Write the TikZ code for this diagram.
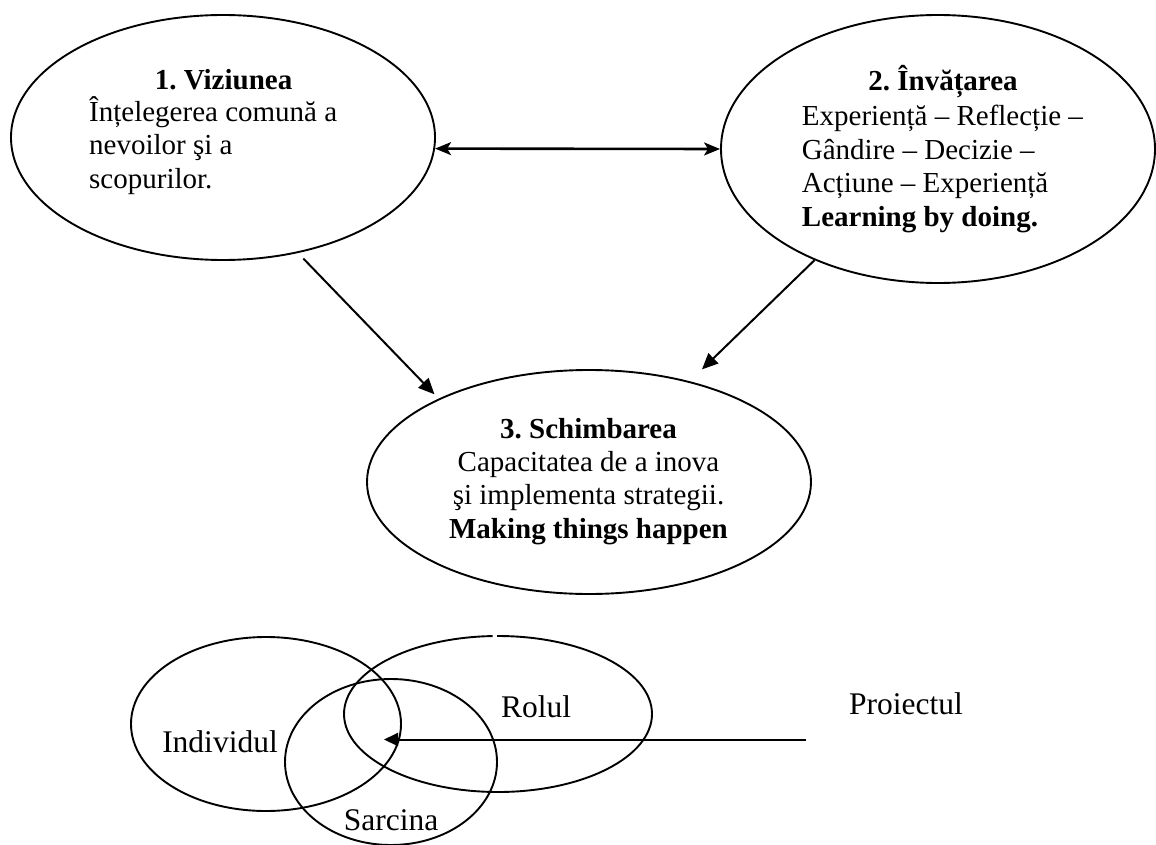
\documentclass[tikz,border=0pt]{standalone}
\usepackage{fontspec}
\setmainfont{Liberation Serif}
\frenchspacing
\usetikzlibrary{shapes.geometric,arrows.meta}
\begin{document}
\begin{tikzpicture}[x=1pt,y=-1pt,
  oval/.style={draw, ellipse, line width=1.9pt, inner sep=0pt},
  txt/.style={inner sep=0pt, font=\fontsize{29}{33.5}\selectfont},
  ttl/.style={txt, font=\fontsize{29}{33.5}\selectfont\bfseries},
  big/.style={inner sep=0pt, font=\fontsize{31.5}{36}\selectfont},
  link/.style={line width=2pt, -{Triangle[length=16pt,width=14pt]}},
  both/.style={line width=2.6pt, {Stealth[length=16pt,width=13pt,inset=4pt]}-{Stealth[length=16pt,width=13pt,inset=4pt]}}
]
\useasboundingbox (0,0) rectangle (1156,845);

% the three stages
\node[oval, minimum width=424pt, minimum height=245pt] (viz) at (223,137.5) {};
\node[oval, minimum width=434pt, minimum height=268pt] (inv) at (938,149) {};
\node[oval, minimum width=444pt, minimum height=224pt] (sch) at (589,482) {};

% multi-line texts are placed by the baseline of their last line
\node[ttl, anchor=base] (vizT) at (223.5,89.3) {1. Viziunea};
\node[txt, anchor=base west, align=left] (vizB) at (89,188.3)
  {Înțelegerea comună a\\nevoilor şi a\\scopurilor.};

\node[ttl, anchor=base] (invT) at (943,90.7) {2. Învățarea};
\node[txt, anchor=base west, align=left] (invB) at (801.7,226)
  {Experiență – Reflecție –\\Gândire – Decizie –\\Acțiune – Experiență\\\textbf{Learning by doing.}};

\node[ttl, anchor=base] (schT) at (588.5,438) {3. Schimbarea};
\node[txt, anchor=base, align=center] (schB) at (588.5,538)
  {Capacitatea de a inova\\şi implementa strategii.\\\textbf{Making things happen}};

% links between the stages
\draw[both] (viz.-3.7) -- (inv.180.5);
\draw[link, shorten <=7.6pt, shorten >=6pt] (viz.-57.7) -- (sch.151.4);
\draw[link, shorten >=17pt] (inv.-138.7) -- (sch.45.5);

% individual, role and task
\node[oval, minimum width=270pt, minimum height=174pt] (ind) at (266,724) {};
\coordinate (rolC) at (498,714);
\draw[line width=1.9pt] (rolC) ++(269.7:154 and 78)
  arc[start angle=269.7, end angle=628, x radius=154, y radius=78];
\node[oval, minimum width=212pt, minimum height=166pt] (sar) at (391,762) {};

\node[big, anchor=base] (indL) at (220,752) {Individul};
\node[big, anchor=base] (rolL) at (536,717) {Rolul};
\node[big, anchor=base] (sarL) at (391,830) {Sarcina};
\node[big, anchor=base] (proL) at (906,714) {Proiectul};

\coordinate (proS) at (806,739.5);
\coordinate (core) at (384,739.5);
\draw[line width=2pt, -{Triangle[length=14pt,width=13pt]}] (proS) -- (core);
\end{tikzpicture}
\end{document}
